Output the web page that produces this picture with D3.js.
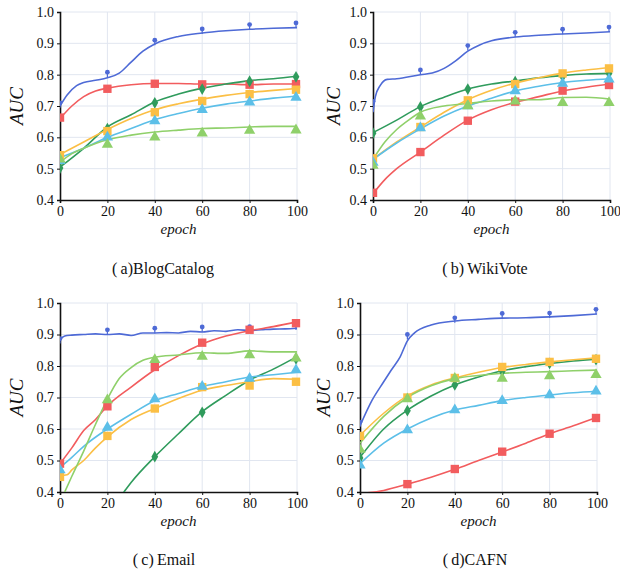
<!DOCTYPE html>
<html>
<head>
<meta charset="utf-8">
<script src="https://cdn.jsdelivr.net/npm/d3@7"></script>
<style>
  body { margin: 0; background: #fff; }
  svg text { font-family: 'Liberation Serif', 'Times New Roman', 'DejaVu Serif', serif; fill: #111; }
</style>
</head>
<body>
<svg id="chart" width="620" height="573"></svg>
<script>
// series order: blue, red, dark green, yellow, light blue, light green
var colors = ['#4e6ad6', '#f25c5e', '#2f9b5c', '#fbbf45', '#5cbfe8', '#8fd06a'];
var shapes = ['pin', 'square', 'diamond', 'square', 'triangle', 'triangle'];
var markEpochs = [0, 20, 40, 60, 80, 100];
var yTicks = [0.4, 0.5, 0.6, 0.7, 0.8, 0.9, 1.0];
var xTicks = [0, 20, 40, 60, 80, 100];
var captions = ['(\u2009a)BlogCatalog', '(\u2009b)\u2009WikiVote', '(\u2009c)\u2009Email', '(\u2009d)CAFN'];

// (a) BlogCatalog
var blogLines = [
  [[0,0.70],[3,0.735],[7,0.765],[10,0.775],[15,0.782],[20,0.79],[25,0.805],[30,0.84],[35,0.875],[40,0.898],[50,0.922],[60,0.933],[70,0.94],[80,0.945],[90,0.948],[100,0.95]],
  [[0,0.66],[5,0.70],[10,0.73],[15,0.748],[20,0.757],[30,0.768],[40,0.772],[50,0.772],[60,0.77],[70,0.77],[80,0.768],[90,0.77],[100,0.77]],
  [[0,0.505],[10,0.565],[20,0.633],[30,0.672],[40,0.713],[50,0.738],[60,0.757],[70,0.77],[80,0.781],[90,0.787],[100,0.795]],
  [[0,0.545],[10,0.585],[20,0.625],[30,0.66],[40,0.688],[50,0.707],[60,0.722],[70,0.734],[80,0.743],[90,0.75],[100,0.756]],
  [[0,0.535],[10,0.565],[20,0.60],[30,0.628],[40,0.656],[50,0.676],[60,0.693],[70,0.706],[80,0.716],[90,0.725],[100,0.732]],
  [[0,0.52],[5,0.548],[10,0.565],[20,0.592],[30,0.607],[40,0.617],[50,0.623],[60,0.628],[70,0.63],[80,0.633],[90,0.635],[100,0.635]]
];
var blogMarks = [
  [0.71, 0.808, 0.91, 0.946, 0.96, 0.965],
  [0.663, 0.755, 0.771, 0.769, 0.768, 0.77],
  [0.502, 0.628, 0.71, 0.754, 0.779, 0.793],
  [0.543, 0.62, 0.68, 0.716, 0.738, 0.752],
  [0.525, 0.60, 0.652, 0.688, 0.712, 0.727],
  [0.53, 0.577, 0.60, 0.613, 0.622, 0.623]
];

// (b) WikiVote
var wikiLines = [
  [[0,0.68],[1,0.73],[3,0.765],[6,0.785],[10,0.787],[20,0.80],[25,0.805],[30,0.82],[35,0.845],[40,0.875],[45,0.895],[50,0.908],[60,0.92],[70,0.926],[80,0.93],[90,0.933],[100,0.937]],
  [[0,0.42],[5,0.465],[10,0.50],[20,0.553],[30,0.607],[40,0.655],[50,0.688],[60,0.712],[70,0.73],[80,0.748],[90,0.76],[100,0.77]],
  [[0,0.615],[10,0.655],[20,0.698],[30,0.728],[40,0.754],[50,0.77],[60,0.78],[70,0.79],[80,0.797],[90,0.802],[100,0.804]],
  [[0,0.53],[10,0.585],[20,0.633],[30,0.68],[40,0.72],[50,0.75],[60,0.773],[70,0.79],[80,0.805],[90,0.815],[100,0.823]],
  [[0,0.53],[10,0.582],[20,0.627],[30,0.668],[40,0.70],[50,0.725],[60,0.748],[70,0.763],[80,0.775],[90,0.782],[100,0.787]],
  [[0,0.53],[5,0.585],[10,0.625],[15,0.655],[20,0.68],[30,0.70],[40,0.708],[50,0.716],[60,0.72],[70,0.72],[80,0.727],[90,0.728],[100,0.722]]
];
var wikiMarks = [
  [0.715, 0.815, 0.893, 0.935, 0.945, 0.952],
  [0.423, 0.553, 0.653, 0.714, 0.749, 0.767],
  [0.613, 0.697, 0.754, 0.778, 0.794, 0.804],
  [0.533, 0.633, 0.718, 0.77, 0.804, 0.82],
  [0.52, 0.63, 0.70, 0.748, 0.772, 0.785],
  [0.51, 0.667, 0.70, 0.715, 0.71, 0.71]
];

// (c) Email
var emailLines = [
  [[0,0.885],[2,0.895],[5,0.898],[10,0.90],[15,0.902],[20,0.90],[25,0.902],[30,0.897],[35,0.905],[40,0.905],[45,0.906],[50,0.905],[55,0.91],[60,0.908],[65,0.912],[70,0.91],[75,0.915],[80,0.913],[85,0.915],[90,0.917],[95,0.918],[100,0.92]],
  [[0,0.49],[5,0.54],[10,0.595],[15,0.63],[20,0.673],[30,0.733],[40,0.788],[50,0.833],[60,0.87],[70,0.895],[80,0.912],[90,0.925],[100,0.94]],
  [[25,0.38],[27,0.40],[30,0.43],[40,0.512],[50,0.585],[60,0.655],[70,0.707],[80,0.755],[90,0.79],[100,0.83]],
  [[0,0.452],[3,0.455],[5,0.47],[10,0.50],[15,0.54],[20,0.575],[30,0.63],[40,0.665],[50,0.697],[60,0.723],[70,0.738],[80,0.75],[90,0.76],[100,0.758]],
  [[0,0.478],[5,0.51],[10,0.545],[20,0.60],[30,0.647],[40,0.69],[50,0.713],[60,0.735],[70,0.75],[80,0.765],[90,0.772],[100,0.78]],
  [[2,0.40],[5,0.45],[10,0.53],[15,0.615],[20,0.695],[25,0.76],[30,0.795],[35,0.818],[40,0.828],[50,0.835],[60,0.842],[70,0.84],[80,0.848],[90,0.845],[100,0.845]]
];
var emailMarks = [
  [0.887, 0.915, 0.92, 0.924, 0.925, 0.93],
  [0.49, 0.672, 0.797, 0.874, 0.915, 0.936],
  [null, null, 0.512, 0.653, 0.755, 0.823],
  [0.448, 0.578, 0.665, 0.733, 0.738, 0.75],
  [0.47, 0.605, 0.695, 0.735, 0.76, 0.787],
  [null, 0.692, 0.82, 0.83, 0.835, 0.825]
];

// (d) CAFN
var cafnLines = [
  [[0,0.61],[5,0.69],[10,0.75],[13,0.785],[17,0.83],[20,0.88],[23,0.905],[30,0.93],[40,0.943],[50,0.948],[60,0.952],[70,0.953],[80,0.956],[90,0.96],[100,0.965]],
  [[0,0.395],[10,0.405],[20,0.425],[30,0.447],[40,0.472],[50,0.50],[60,0.527],[70,0.555],[80,0.585],[90,0.61],[100,0.637]],
  [[0,0.51],[10,0.60],[20,0.66],[30,0.705],[40,0.74],[50,0.765],[60,0.785],[70,0.798],[80,0.808],[90,0.816],[100,0.822]],
  [[0,0.58],[10,0.65],[20,0.705],[30,0.74],[40,0.762],[50,0.78],[60,0.795],[70,0.805],[80,0.813],[90,0.82],[100,0.826]],
  [[0,0.49],[10,0.555],[20,0.60],[30,0.635],[40,0.66],[50,0.675],[60,0.69],[70,0.70],[80,0.708],[90,0.715],[100,0.72]],
  [[0,0.555],[10,0.64],[20,0.70],[30,0.737],[40,0.76],[50,0.77],[60,0.777],[70,0.78],[80,0.782],[90,0.785],[100,0.787]]
];
var cafnMarks = [
  [0.622, 0.90, 0.953, 0.967, 0.968, 0.98],
  [null, 0.425, 0.473, 0.528, 0.585, 0.635],
  [0.508, 0.658, 0.74, 0.783, 0.808, 0.82],
  [0.578, 0.70, 0.762, 0.797, 0.813, 0.823],
  [0.485, 0.597, 0.66, 0.69, 0.708, 0.72],
  [0.535, 0.695, 0.76, 0.76, 0.768, 0.772]
];

var svg = d3.select('#chart');

var panels = [
  {lines: blogLines, marks: blogMarks, x0: 60, x1: 297, y0: 12, y1: 200, labelX: 17, capX: 163, capY: 274},
  {lines: wikiLines, marks: wikiMarks, x0: 373, x1: 610, y0: 12, y1: 200, labelX: 334, capX: 485, capY: 274},
  {lines: emailLines, marks: emailMarks, x0: 60, x1: 297, y0: 303, y1: 492, labelX: 17, capX: 164, capY: 565},
  {lines: cafnLines, marks: cafnMarks, x0: 360, x1: 597, y0: 303, y1: 492, labelX: 324, capX: 475, capY: 565}
];

var serif = "'Liberation Serif', 'Times New Roman', 'DejaVu Serif', serif";

panels.forEach(function(p, pi) {
  var x = d3.scaleLinear().domain([0, 100]).range([p.x0, p.x1]);
  var y = d3.scaleLinear().domain([0.4, 1.0]).range([p.y1, p.y0]);
  var g = svg.append('g');

  // grid
  g.selectAll('.hgrid').data(yTicks.slice(1)).enter().append('line')
    .attr('x1', p.x0).attr('x2', p.x1)
    .attr('y1', function(d) { return y(d); }).attr('y2', function(d) { return y(d); })
    .attr('stroke', '#e1e6f0').attr('stroke-width', 1);
  g.selectAll('.vgrid').data(xTicks.slice(1)).enter().append('line')
    .attr('x1', function(d) { return x(d); }).attr('x2', function(d) { return x(d); })
    .attr('y1', p.y0).attr('y2', p.y1)
    .attr('stroke', '#e1e6f0').attr('stroke-width', 1);

  // axes
  var yAxis = g.append('g').attr('transform', 'translate(' + p.x0 + ',0)')
    .call(d3.axisLeft(y).tickValues(yTicks).tickFormat(d3.format('.1f')).tickSize(3).tickPadding(3));
  var xAxis = g.append('g').attr('transform', 'translate(0,' + p.y1 + ')')
    .call(d3.axisBottom(x).tickValues(xTicks).tickSize(3).tickPadding(3));
  [yAxis, xAxis].forEach(function(a) {
    a.attr('font-family', null).attr('font-size', null);
    a.select('.domain').attr('stroke', '#111').attr('stroke-width', 1.6);
    a.selectAll('.tick line').attr('stroke', '#111');
    a.selectAll('text').style('font-family', serif).style('font-size', '14px').style('fill', '#111');
  });

  // clip
  var clipId = 'clip' + pi;
  svg.append('clipPath').attr('id', clipId).append('rect')
    .attr('x', p.x0).attr('y', p.y0 - 2).attr('width', p.x1 - p.x0 + 6).attr('height', p.y1 - p.y0 + 2);

  var line = d3.line()
    .x(function(d) { return x(d[0]); })
    .y(function(d) { return y(d[1]); })
    .curve(d3.curveMonotoneX);

  var plot = g.append('g').attr('clip-path', 'url(#' + clipId + ')');
  p.lines.forEach(function(s, si) {
    plot.append('path').datum(s)
      .attr('d', line)
      .attr('fill', 'none')
      .attr('stroke', colors[si])
      .attr('stroke-width', 1.6);
  });

  // markers
  p.marks.forEach(function(vals, si) {
    var pts = vals.map(function(v, i) { return {e: markEpochs[i], v: v}; })
      .filter(function(d) { return d.v !== null; });
    var c = colors[si];
    pts.forEach(function(d) {
      var cx = x(d.e) - (d.e === 100 ? 1 : 0), cy = y(d.v);
      if (shapes[si] === 'pin') {
        plot.append('line').attr('x1', cx).attr('x2', cx).attr('y1', cy).attr('y2', cy + 5)
          .attr('stroke', c).attr('stroke-width', 1.2);
        plot.append('circle').attr('cx', cx).attr('cy', cy).attr('r', 2.4).attr('fill', c);
      } else {
        var sym = shapes[si] === 'square' ? d3.symbolSquare : shapes[si] === 'diamond' ? d3.symbolDiamond : d3.symbolTriangle;
        var size = shapes[si] === 'square' ? 70 : shapes[si] === 'diamond' ? 40 : 55;
        plot.append('path')
          .attr('d', d3.symbol().type(sym).size(size))
          .attr('transform', 'translate(' + cx + ',' + cy + ')')
          .attr('fill', c);
      }
    });
  });

  // labels
  svg.append('text')
    .attr('transform', 'translate(' + (p.labelX + 6) + ',' + ((p.y0 + p.y1) / 2) + ') rotate(-90)')
    .attr('text-anchor', 'middle')
    .style('font-family', serif)
    .style('font-style', 'italic')
    .style('font-size', '19px')
    .text('AUC');
  svg.append('text')
    .attr('x', (p.x0 + p.x1) / 2).attr('y', p.y1 + 34)
    .attr('text-anchor', 'middle')
    .style('font-family', serif)
    .style('font-style', 'italic')
    .style('font-size', '15px')
    .text('epoch');
  svg.append('text')
    .attr('x', p.capX).attr('y', p.capY)
    .attr('text-anchor', 'middle')
    .style('font-family', serif)
    .style('font-size', '16px')
    .text(captions[pi]);
});
</script>
</body>
</html>
